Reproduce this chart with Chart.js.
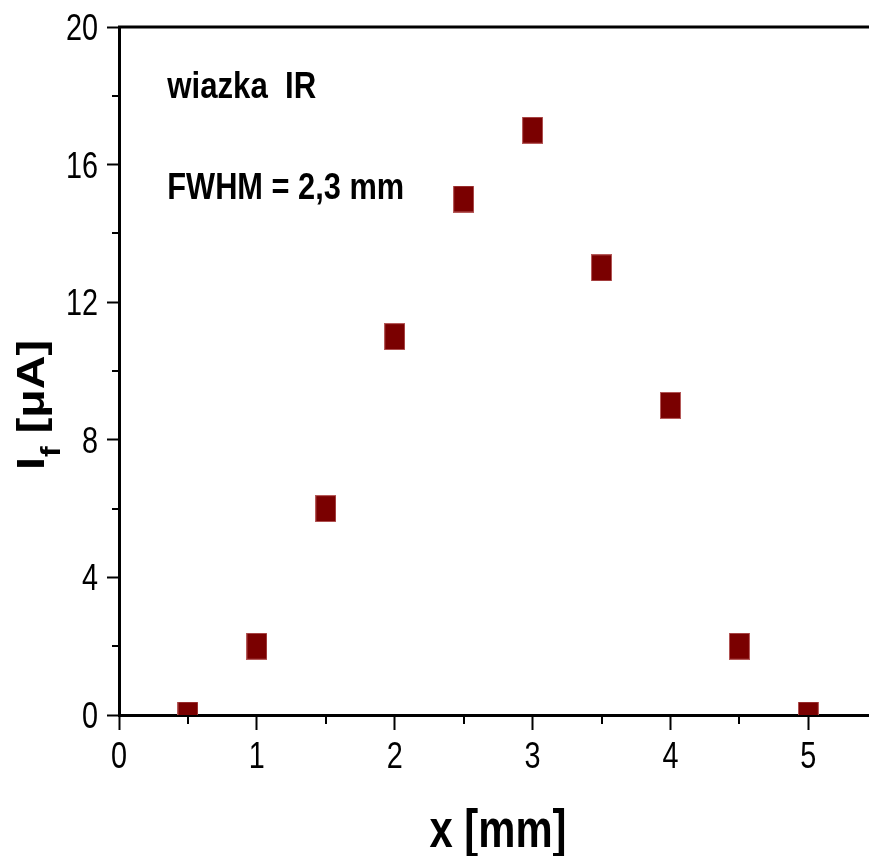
<!DOCTYPE html>
<html>
<head>
<meta charset="utf-8">
<script src="https://cdn.jsdelivr.net/npm/chart.js@4.4.0/dist/chart.umd.min.js"></script>
<style>
html, body { margin: 0; padding: 0; background: #fff; overflow: hidden; }
#wrap { width: 869px; height: 856px; }
</style>
</head>
<body>
<div id="wrap"><canvas id="chart"></canvas></div>
<script>
// data
const xValues = [0.5, 1, 1.5, 2, 2.5, 3, 3.5, 4, 4.5, 5];
const yValues = [0, 2, 6, 11, 15, 17, 13, 9, 2, 0];

const xTicks = [0, 1, 2, 3, 4, 5];
const yTicks = [0, 4, 8, 12, 16, 20];
const xMinorTicks = [0.5, 1.5, 2.5, 3.5, 4.5];
const yMinorTicks = [2, 6, 10, 14, 18];

const xTitle = "x [mm]";
const yTitleMain = "I";
const yTitleSub = "f";
const yTitleUnit = " [μA]";
const notes = ["wiazka  IR", "FWHM = 2,3 mm"];

const baseFont = "'Liberation Sans', Arial, sans-serif";

// square marker, a bit taller than wide like in the original
function makeMarker() {
    const c = document.createElement("canvas");
    c.width = 21;
    c.height = 27;
    const g = c.getContext("2d");
    g.fillStyle = "#b55a5a";
    g.fillRect(0, 0, 21, 27);
    g.fillStyle = "#7a0000";
    g.fillRect(1, 1, 19, 25);
    return c;
}

// draw text squeezed/stretched horizontally
function squeezedText(ctx, text, x, y, font, k, align) {
    ctx.save();
    ctx.font = font;
    ctx.translate(x, y);
    ctx.scale(k, 1);
    ctx.textAlign = align;
    ctx.textBaseline = "alphabetic";
    ctx.fillStyle = "#000";
    ctx.fillText(text, 0, 0);
    ctx.restore();
}

function fitText(ctx, text, x, y, size, width, align) {
    const font = "bold " + size + "px " + baseFont;
    ctx.font = font;
    const k = width / ctx.measureText(text).width;
    squeezedText(ctx, text, x, y, font, k, align);
}

const extras = {
    id: "extras",
    afterDraw(chart) {
        const ctx = chart.ctx;
        const a = chart.chartArea;
        const xs = chart.scales.x;
        const ys = chart.scales.y;

        ctx.save();
        ctx.strokeStyle = "#000";

        // minor ticks
        ctx.lineWidth = 2;
        ctx.beginPath();
        yMinorTicks.forEach(v => {
            const py = Math.round(ys.getPixelForValue(v));
            ctx.moveTo(a.left - 7, py);
            ctx.lineTo(a.left, py);
        });
        xMinorTicks.forEach(v => {
            const px = Math.round(xs.getPixelForValue(v));
            ctx.moveTo(px, a.bottom);
            ctx.lineTo(px, a.bottom + 9);
        });
        ctx.stroke();

        // top frame line
        ctx.lineWidth = 3;
        ctx.beginPath();
        ctx.moveTo(a.left - 1, a.top);
        ctx.lineTo(chart.width, a.top);
        ctx.stroke();
        ctx.restore();

        // tick labels, narrow like the original
        const tf = "36px " + baseFont;
        ys.ticks.forEach(t => {
            squeezedText(ctx, String(t.value), 98, ys.getPixelForValue(t.value) + 13, tf, 0.8, "right");
        });
        xs.ticks.forEach(t => {
            squeezedText(ctx, String(t.value), xs.getPixelForValue(t.value), 768, tf, 0.8, "center");
        });

        // notes inside the plot
        const nx = xs.getPixelForValue(0.35);
        fitText(ctx, notes[0], nx, ys.getPixelForValue(17.95), 37, 149, "left");
        fitText(ctx, notes[1], nx, ys.getPixelForValue(15.0), 37, 237, "left");

        // x title
        fitText(ctx, xTitle, (a.left + a.right) / 2 + 4, 847, 54, 137, "center");

        // y title with subscript, rotated
        ctx.save();
        const F = 46;
        const fs = 32;
        ctx.font = "bold " + F + "px " + baseFont;
        const wI = ctx.measureText(yTitleMain).width;
        const wU = ctx.measureText(yTitleUnit).width;
        ctx.font = "bold " + fs + "px " + baseFont;
        const wF = ctx.measureText(yTitleSub).width;
        const kx = 130 / (wI + wF + wU);
        ctx.translate(44, 470);
        ctx.rotate(-Math.PI / 2);
        ctx.scale(kx, 0.85);
        ctx.fillStyle = "#000";
        ctx.textBaseline = "alphabetic";
        ctx.textAlign = "left";
        ctx.font = "bold " + F + "px " + baseFont;
        ctx.fillText(yTitleMain, 0, 0);
        ctx.font = "bold " + fs + "px " + baseFont;
        ctx.fillText(yTitleSub, wI, 19);
        ctx.font = "bold " + F + "px " + baseFont;
        ctx.fillText(yTitleUnit, wI + wF, 0);
        ctx.restore();
    }
};

const points = xValues.map((x, i) => ({ x: x, y: yValues[i] }));

new Chart(document.getElementById("chart"), {
    type: "scatter",
    data: {
        datasets: [{
            data: points,
            pointStyle: makeMarker(),
            pointRadius: 14,
            clip: 0
        }]
    },
    options: {
        responsive: true,
        maintainAspectRatio: false,
        animation: false,
        events: [],
        layout: { autoPadding: false, padding: { top: 27, left: 0, right: 0, bottom: 0 } },
        plugins: {
            legend: { display: false },
            tooltip: { enabled: false }
        },
        scales: {
            x: {
                type: "linear",
                min: 0,
                max: 5.44,
                z: 1,
                afterBuildTicks: s => { s.ticks = xTicks.map(v => ({ value: v })); },
                afterFit: s => {
                    s.height = 141;
                    s.paddingLeft = 0; s.paddingRight = 0; s.paddingTop = 0; s.paddingBottom = 0;
                },
                grid: { drawOnChartArea: false, drawTicks: true, tickLength: 15, tickWidth: 2, tickColor: "#000" },
                border: { display: true, color: "#000", width: 3 },
                ticks: { display: false }
            },
            y: {
                type: "linear",
                min: 0,
                max: 20,
                z: 1,
                afterBuildTicks: s => { s.ticks = yTicks.map(v => ({ value: v })); },
                afterFit: s => {
                    s.width = 119;
                    s.paddingLeft = 0; s.paddingRight = 0; s.paddingTop = 0; s.paddingBottom = 0;
                },
                grid: { drawOnChartArea: false, drawTicks: true, tickLength: 12, tickWidth: 2, tickColor: "#000" },
                border: { display: true, color: "#000", width: 3 },
                ticks: { display: false }
            }
        }
    },
    plugins: [extras]
});
</script>
</body>
</html>
